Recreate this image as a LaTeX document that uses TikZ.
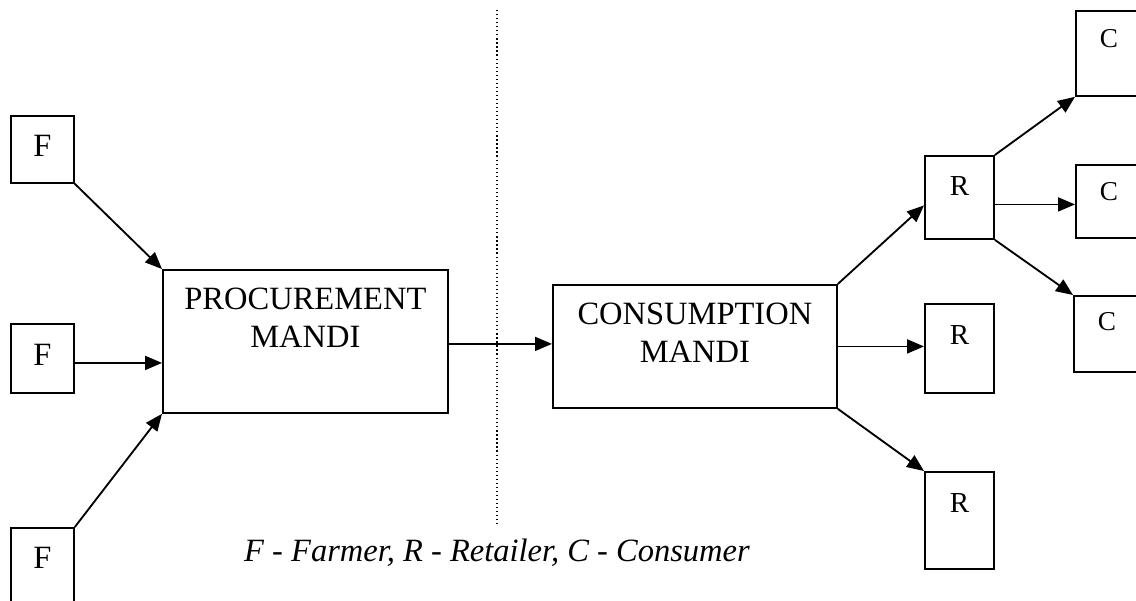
\documentclass[tikz,border=0pt]{standalone}
\usepackage{fontspec}
\setmainfont{Liberation Serif}
\usetikzlibrary{positioning}
\usetikzlibrary{arrows.meta}
\tikzset{
    box/.style={draw, line width=1.05pt, inner sep=0pt, anchor=north west,
        font=\fontsize{18.5}{21.7}\selectfont},
    farmer/.style={box, minimum width=1.26cm},
    mandi/.style={box, align=center},
    retailer/.style={box, minimum width=1.38cm, font=\fontsize{16.5}{19}\selectfont},
    consumer/.style={box, minimum width=1.32cm, font=\fontsize{15.5}{18}\selectfont},
    flow/.style={line width=1.05pt, -{Triangle[length=0.34cm,width=0.28cm]}},
    divider/.style={line width=0.7pt, dash pattern=on 0.7pt off 1.6pt}
}
\begin{document}
\begin{tikzpicture}[x=0.02cm,y=-0.02cm]
			\useasboundingbox (0,0) rectangle (1136,600);
			\clip (0,0) rectangle (1136,600);
			\node[farmer, text height=0.82cm, text depth=0.52cm] (F1) at (10,115) {F};
			\node[farmer, text height=0.84cm, text depth=0.54cm] (F2) at (10,323) {F};
			\node[farmer, text height=0.82cm, text depth=0.8cm] (F3) at (10,527) {F};
			\node[mandi, minimum width=5.7cm, text height=1.56cm, text depth=1.3cm] (proc) at (162,269) {PROCUREMENT\\MANDI};
			\node[mandi, minimum width=5.68cm, text height=1.56cm, text depth=0.9cm] (cons) at (552,284) {CONSUMPTION\\MANDI};
			\node[retailer, text height=0.8cm, text depth=0.86cm] (R1) at (924,155) {R};
			\node[retailer, text height=0.82cm, text depth=0.96cm] (R2) at (924,303) {R};
			\node[retailer, text height=0.82cm, text depth=1.12cm] (R3) at (924,471) {R};
			\node[consumer, text height=0.74cm, text depth=0.96cm] (C1) at (1075,10) {C};
			\node[consumer, text height=0.72cm, text depth=0.74cm] (C2) at (1075,164) {C};
			\node[consumer, text height=0.7cm, text depth=0.82cm] (C3) at (1073,295) {C};
			% farmers to procurement mandi
			\draw[flow] (F1.south east) -- (proc.north west);
			\draw[flow] ([yshift=-0.09cm]F2.east) -- ([yshift=-0.09cm]F2.east -| proc.west);
			\draw[flow] (F3.north east) -- (proc.south west);
			\draw[flow] ([yshift=-0.05cm]proc.east) -- ([yshift=-0.05cm]proc.east -| cons.west);
			% consumption mandi to retailers
			\draw[flow] (cons.north east) -- ([yshift=-0.16cm]R1.west);
			\draw[flow] (cons.east) -- (cons.east -| R2.west);
			\draw[flow] (cons.south east) -- (R3.north west);
			% retailer to consumers
			\draw[flow] (R1.north east) -- (C1.south west);
			\draw[flow] ([yshift=-0.14cm]R1.east) -- ([yshift=-0.14cm]R1.east -| C2.west);
			\draw[flow] (R1.south east) -- (C3.north west);
			\coordinate (divtop) at (497,10);
			\coordinate (divbot) at (497,527);
			\draw[divider] (divtop) -- (divbot);
			\node[anchor=base, font=\fontsize{18.5}{21.7}\selectfont\itshape] (key) at (497,561) {F - Farmer, R - Retailer, C - Consumer};
	\end{tikzpicture}
\end{document}
